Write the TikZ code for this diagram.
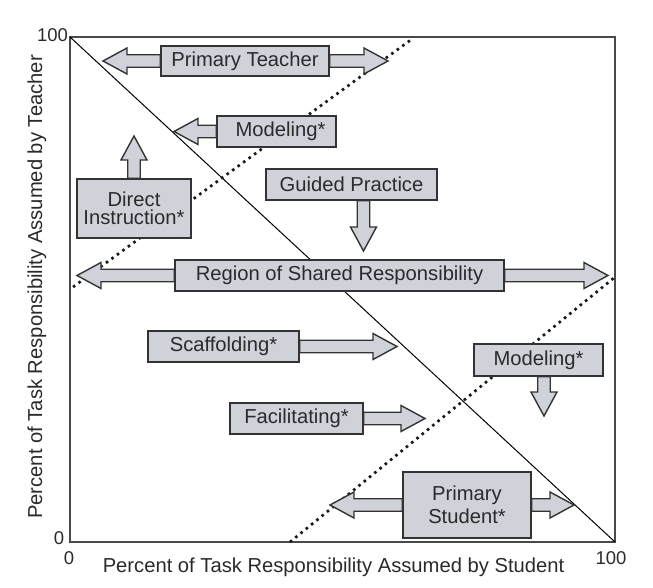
\documentclass[tikz,border=0pt]{standalone}
\usepackage{fontspec}
\setmainfont{Liberation Sans}
\usetikzlibrary{calc}
\definecolor{boxfill}{HTML}{CFD2D9}
\definecolor{boxline}{HTML}{333333}
\definecolor{txt}{HTML}{2A2A2A}
\definecolor{framecol}{HTML}{4A4A4A}
\pgfdeclarelayer{lines}
\pgfdeclarelayer{arrows}
\pgfsetlayers{lines,arrows,main}
\tikzset{
 lbl/.style={draw=boxline, fill=boxfill, line width=1.4pt, inner sep=0pt, text=txt, font=\fontsize{20.2}{20}\selectfont, align=center},
 blk/.style={draw=boxline, fill=boxfill, line width=1.4pt, line join=miter},
 dotline/.style={line width=2.7pt, dash pattern=on 2.6pt off 4.2pt, black!90},
 diag/.style={line width=1pt, black},
 axnum/.style={text=txt, font=\fontsize{18.5}{18}\selectfont, inner sep=0pt},
 axlbl/.style={text=txt, font=\fontsize{20.2}{20}\selectfont, inner sep=0pt},
}
\newcommand\blockarrow[2]{%
 \filldraw[blk] ($(#1)!6.25pt!90:(#2)$) -- ($(#2)!24pt!(#1)!6.25pt!-90:(#1)$) -- ($(#2)!24pt!(#1)!13pt!-90:(#1)$) -- (#2) -- ($(#2)!24pt!(#1)!13pt!90:(#1)$) -- ($(#2)!24pt!(#1)!6.25pt!90:(#1)$) -- ($(#1)!6.25pt!-90:(#2)$) -- cycle;}
\begin{document}
\begin{tikzpicture}[x=1pt,y=-1pt]
\useasboundingbox (0,0) rectangle (653,588);
% corners and line ends
\coordinate (tl) at (70,37);
\coordinate (br) at (615,542);
\coordinate (d1a) at (73,287);
\coordinate (d1b) at (412,39);
\coordinate (d2a) at (290,542);
\coordinate (d2b) at (615,277);
% boxes
\node[lbl, minimum width=168pt, minimum height=30pt] (pt) at (245,61) {Primary Teacher};
\node[lbl, minimum width=119pt, minimum height=31pt] (mod1) at (276.5,131.5) {\hspace*{8pt}Modeling*};
\node[lbl, minimum width=114pt, minimum height=59pt, font=\fontsize{20.2}{18.5}\selectfont] (di) at (134,208.5) {Direct\\Instruction*};
\node[lbl, minimum width=171pt, minimum height=31pt] (gp) at (351.5,184.5) {Guided Practice};
\node[lbl, minimum width=329pt, minimum height=31pt] (rsr) at (339.5,275.5) {Region of Shared Responsibility};
\node[lbl, minimum width=151pt, minimum height=31pt] (sc) at (223.5,346.5) {Scaffolding*};
\node[lbl, minimum width=133pt, minimum height=31pt] (fa) at (296.5,418.5) {Facilitating*};
\node[lbl, minimum width=129pt, minimum height=32pt] (mod2) at (538.5,360) {Modeling*};
\node[lbl, minimum width=128pt, minimum height=66pt, font=\fontsize{20.2}{23}\selectfont] (ps) at (467,505) {Primary\\Student*};
% arrow tips
\coordinate (ptL) at (103,61);
\coordinate (ptR) at (388,61);
\coordinate (mod1L) at (174,131.5);
\coordinate (diU) at (134,136);
\coordinate (gpD) at (363.5,251);
\coordinate (gpS) at (gp.south -| gpD);
\coordinate (rsrL) at (77,275.5);
\coordinate (rsrR) at (608,275.5);
\coordinate (scR) at (397,346.5);
\coordinate (faR) at (425,418.5);
\coordinate (mod2D) at (544,416);
\coordinate (mod2S) at (mod2.south -| mod2D);
\coordinate (psL) at (330,505);
\coordinate (psR) at (574,505);
% axis texts
\node[axnum] (n100y) at (52.5,35) {100};
\node[axnum] (n0y) at (59,538) {0};
\node[axnum] (n0x) at (69,558) {0};
\node[axnum] (n100x) at (611,558) {100};
\node[axlbl] (xlab) at (333.5,567) {Percent of Task Responsibility Assumed by Student};
\node[axlbl, rotate=90] (ylab) at (37,287) {Percent of Task Responsibility Assumed by Teacher};
\begin{pgfonlayer}{lines}
\draw[framecol, line width=1.8pt] (tl) rectangle (br);
\draw[diag] (tl) -- (br);
\draw[dotline] (d1a) -- (d1b);
\draw[dotline] (d2a) -- (d2b);
\end{pgfonlayer}
\begin{pgfonlayer}{arrows}
\blockarrow{pt.west}{ptL}
\blockarrow{pt.east}{ptR}
\blockarrow{mod1.west}{mod1L}
\blockarrow{di.north}{diU}
\blockarrow{gpS}{gpD}
\blockarrow{rsr.west}{rsrL}
\blockarrow{rsr.east}{rsrR}
\blockarrow{sc.east}{scR}
\blockarrow{fa.east}{faR}
\blockarrow{mod2S}{mod2D}
\blockarrow{ps.west}{psL}
\blockarrow{ps.east}{psR}
\end{pgfonlayer}
\end{tikzpicture}
\end{document}
